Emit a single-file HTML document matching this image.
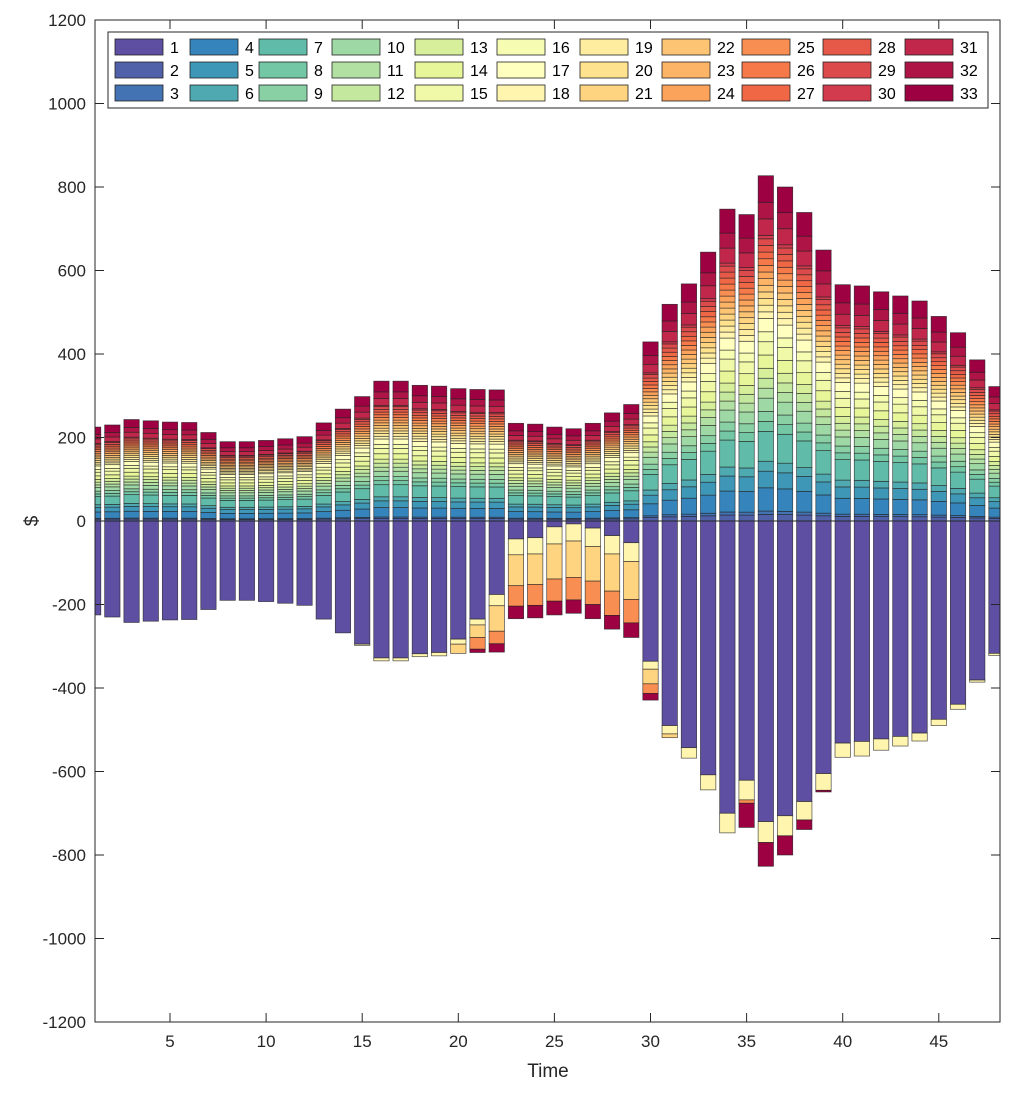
<!DOCTYPE html>
<html><head><meta charset="utf-8">
<style>
html,body{margin:0;padding:0;background:#fff;}
svg text{font-family:"Liberation Sans",Arial,sans-serif;}
</style></head>
<body>
<svg id="chart" width="1009" height="1090" viewBox="0 0 1009 1090" xmlns="http://www.w3.org/2000/svg">
<defs><clipPath id="plotclip"><rect x="95" y="20" width="905" height="1002"/></clipPath></defs>
<g id="bars" clip-path="url(#plotclip)"></g>
<g id="axes"></g>
<g id="legend"></g>
</svg>
<script>
// ---- data ----
const times = [1,2,3,4,5,6,7,8,9,10,11,12,13,14,15,16,17,18,19,20,21,22,23,24,25,26,27,28,29,30,31,32,33,34,35,36,37,38,39,40,41,42,43,44,45,46,47,48];
const totals = [225,230,243,240,237,236,212,190,190,193,197,202,235,268,298,335,335,325,323,317,315,314,234,232,225,221,234,259,279,429,519,568,644,747,734,827,800,739,649,566,563,549,539,527,490,451,386,322];
// share of positive stack for series 2..33
const shares = [0.02,0.01,0.07,0.05,0.03,0.09,0.03,0.03,0.04,0.03,0.03,0.03,0.04,0.04,0.03,0.04,0.02,0.02,0.02,0.02,0.02,0.02,0.02,0.02,0.02,0.02,0.02,0.02,0.01,0.05,0.05,0.08];
// negative series (magnitudes)
const neg1 = [225,230,243,240,237,236,212,190,190,193,197,202,235,268,295,328,328,318,315,283,235,176,43,40,14,7,17,35,52,336,490,543,608,700,621,720,706,672,605,532,528,522,516,508,475,439,381,317];
const neg18 = [0,0,0,0,0,0,0,0,0,0,0,0,0,0,3,7,7,7,8,12,14,27,38,39,41,41,44,44,45,19,20,25,36,47,47,50,48,44,40,34,35,27,23,19,15,12,5,5];
const neg21 = [0,0,0,0,0,0,0,0,0,0,0,0,0,0,0,0,0,0,0,22,30,61,74,73,84,87,83,89,91,35,9,0,0,0,0,0,0,0,0,0,0,0,0,0,0,0,0,0];
const neg25 = [0,0,0,0,0,0,0,0,0,0,0,0,0,0,0,0,0,0,0,0,28,30,49,50,53,54,56,58,56,23,0,0,0,0,8,0,0,0,0,0,0,0,0,0,0,0,0,0];
const neg33 = [0,0,0,0,0,0,0,0,0,0,0,0,0,0,0,0,0,0,0,0,8,20,30,30,33,32,34,33,35,16,0,0,0,0,58,57,46,23,4,0,0,0,0,0,0,0,0,0];
const yTicks = [-1200,-1000,-800,-600,-400,-200,0,200,400,600,800,1000,1200];
const xTicks = [5,10,15,20,25,30,35,40,45];

// ---- scales ----
const X0=73.9, XS=19.22, Y0=521, YS=0.4175;
const xS = t => X0 + XS*t;
const yS = v => Y0 - YS*v;
const BW = 0.8*XS;
const NS = "http://www.w3.org/2000/svg";
function mk(tag, attrs, parent){const e=document.createElementNS(NS,tag);for(const k in attrs)e.setAttribute(k,attrs[k]);parent.appendChild(e);return e;}

// Spectral colormap
const stops=["#5e4fa2","#3288bd","#66c2a5","#abdda4","#e6f598","#ffffbf","#fee08b","#fdae61","#f46d43","#d53e4f","#9e0142"];
function hex(h){return [1,3,5].map(i=>parseInt(h.substr(i,2),16));}
function color(i){ // i: 1..33
  const t=(i-1)/32*10; const a=Math.min(9,Math.floor(t)); const f=t-a;
  const c1=hex(stops[a]),c2=hex(stops[a+1]);
  return "rgb("+c1.map((v,k)=>Math.round(v+(c2[k]-v)*f)).join(",")+")";
}

const bars=document.getElementById('bars');
const shareSum = shares.reduce((a,b)=>a+b,0);
times.forEach((t,ti)=>{
  const x = xS(t)-BW/2;
  // positive
  let acc=0;
  shares.forEach((s,si)=>{
    const v = totals[ti]*s/shareSum;
    const r = mk('rect',{x:x,y:yS(acc+v),width:BW,height:YS*v,fill:color(si+2),stroke:"#222","stroke-width":0.7,"stroke-opacity":0.8},bars);
    
    
    acc+=v;
  });
  // negative
  let nacc=0;
  [[neg1,1],[neg18,18],[neg21,21],[neg25,25],[neg33,33]].forEach(([arr,si])=>{
    const v=arr[ti]; if(!v) return;
    const r = mk('rect',{x:x,y:yS(-nacc),width:BW,height:YS*v,fill:color(si),stroke:"#222","stroke-width":0.7,"stroke-opacity":0.8},bars);
    
    
    nacc+=v;
  });
});

// ---- axes ----
const ax=document.getElementById('axes');
mk('line',{x1:95,y1:Y0,x2:1000,y2:Y0,stroke:"#262626","stroke-width":1},ax);
mk('rect',{x:95,y:20,width:905,height:1002,fill:"none",stroke:"#262626","stroke-width":1},ax);
yTicks.forEach(v=>{
  const y=yS(v);
  mk('line',{x1:95,y1:y,x2:104,y2:y,stroke:"#262626"},ax);
  mk('line',{x1:1000,y1:y,x2:991,y2:y,stroke:"#262626"},ax);
  const tx=mk('text',{x:86,y:y+6,"text-anchor":"end","font-size":17,fill:"#262626"},ax);
  tx.textContent=v;
  
  
});
xTicks.forEach(v=>{
  const x=xS(v);
  mk('line',{x1:x,y1:1022,x2:x,y2:1013,stroke:"#262626"},ax);
  mk('line',{x1:x,y1:20,x2:x,y2:29,stroke:"#262626"},ax);
  const tx=mk('text',{x:x,y:1047,"text-anchor":"middle","font-size":17,fill:"#262626"},ax);
  tx.textContent=v;
  
  
});
const xt=mk('text',{x:548,y:1077,"text-anchor":"middle","font-size":19,fill:"#262626"},ax);
xt.textContent="Time";


const yt=mk('text',{x:38,y:521,"text-anchor":"middle","font-size":19,fill:"#262626",transform:"rotate(-90 38 521)"},ax);
yt.textContent="$";



// ---- legend ----
const lg=document.getElementById('legend');
mk('rect',{x:108,y:32,width:880,height:76,fill:"#fff",stroke:"#262626","stroke-width":1},lg);
const colX=[115,190,259,332,415,497,580,662,742,823,905];
const rowY=[39,62,85];
for(let i=1;i<=33;i++){
  const c=Math.floor((i-1)/3), r=(i-1)%3;
  const g=mk('g',{},lg);
  
  
  mk('rect',{x:colX[c],y:rowY[r],width:48,height:16,fill:color(i),stroke:"#222","stroke-width":0.8},g);
  const tx=mk('text',{x:colX[c]+55,y:rowY[r]+14,"font-size":16,fill:"#000"},g);
  tx.textContent=i;
}
</script>
</body></html>
